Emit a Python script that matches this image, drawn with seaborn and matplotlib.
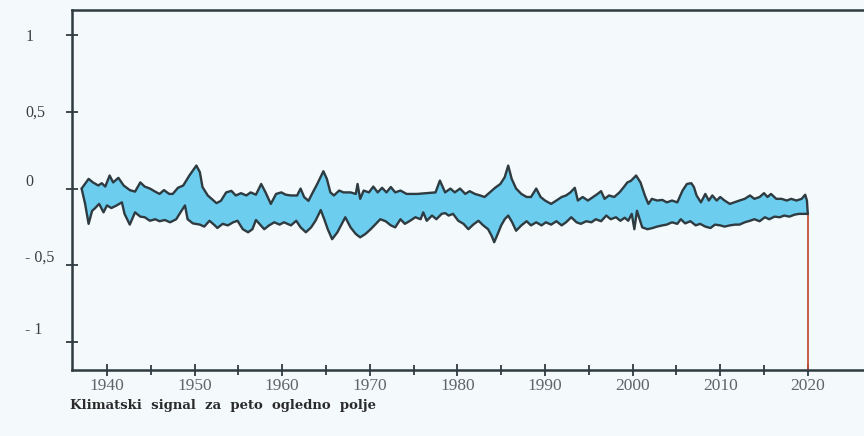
import numpy as np
import pandas as pd
import matplotlib
matplotlib.use('Agg')
import matplotlib.pyplot as plt
import matplotlib.transforms as mtransforms
import seaborn as sns

# ==========================
# DATA
# ==========================
upper_years = [1937.1, 1937.9, 1938.4, 1939.0, 1939.4, 1939.8, 1940.3, 1940.7, 1941.3, 1941.9,
               1942.6, 1943.2, 1943.8, 1944.3, 1944.9, 1945.5, 1946.0, 1946.5, 1947.1, 1947.5,
               1948.1, 1948.7, 1949.4, 1950.2, 1950.6, 1950.9, 1951.5, 1952.5, 1953.0, 1953.6,
               1954.2, 1954.7, 1955.3, 1955.9, 1956.4, 1957.0, 1957.6, 1958.1, 1958.7, 1959.3,
               1959.9, 1960.4, 1961.0, 1961.7, 1962.1, 1962.5, 1963.0, 1963.4, 1964.0, 1964.7,
               1965.1, 1965.5, 1965.9, 1966.5, 1967.0, 1967.8, 1968.4, 1968.6, 1968.9, 1969.3,
               1969.9, 1970.4, 1970.9, 1971.4, 1971.9, 1972.4, 1972.9, 1973.5, 1974.2, 1975.4,
               1976.5, 1977.5, 1978.0, 1978.6, 1979.2, 1979.7, 1980.3, 1980.9, 1981.4, 1982.0,
               1982.6, 1983.1, 1983.7, 1984.3, 1984.9, 1985.4, 1985.8, 1986.2, 1986.7, 1987.3,
               1987.9, 1988.4, 1989.0, 1989.5, 1990.0, 1990.7, 1991.3, 1991.9, 1992.4, 1992.9,
               1993.4, 1993.75, 1994.3, 1994.9, 1995.5, 1996.0, 1996.4, 1996.8, 1997.3, 1997.9,
               1998.5, 1999.0, 1999.4, 1999.8, 2000.4, 2000.9, 2001.4, 2001.8, 2002.2, 2002.8,
               2003.4, 2003.9, 2004.5, 2005.1, 2005.7, 2006.2, 2006.7, 2007.0, 2007.3, 2007.8,
               2008.3, 2008.7, 2009.1, 2009.6, 2010.0, 2010.5, 2011.1, 2011.6, 2012.2, 2012.8,
               2013.4, 2013.9, 2014.5, 2015.0, 2015.4, 2015.8, 2016.4, 2017.0, 2017.6, 2018.1,
               2018.7, 2019.3, 2019.7, 2019.9, 2020.0]
upper_vals = [0.0, 0.063, 0.04, 0.02, 0.035, 0.013, 0.085, 0.04, 0.07, 0.02,
              -0.01, -0.02, 0.04, 0.013, 0.0, -0.02, -0.035, -0.01, -0.035, -0.035,
              0.005, 0.02, 0.085, 0.15, 0.107, 0.01, -0.045, -0.095, -0.08, -0.025,
              -0.015, -0.045, -0.03, -0.045, -0.025, -0.04, 0.03, -0.025, -0.1, -0.035,
              -0.025, -0.04, -0.045, -0.045, 0.0, -0.055, -0.08, -0.035, 0.03, 0.113,
              0.063, -0.025, -0.045, -0.013, -0.025, -0.025, -0.035, 0.03, -0.067, -0.013,
              -0.025, 0.013, -0.025, 0.005, -0.025, 0.01, -0.025, -0.013, -0.035, -0.035,
              -0.03, -0.025, 0.052, -0.025, 0.0, -0.025, 0.0, -0.035, -0.017, -0.035,
              -0.045, -0.055, -0.025, 0.005, 0.03, 0.074, 0.15, 0.063, 0.0, -0.035,
              -0.055, -0.055, 0.0, -0.055, -0.078, -0.1, -0.078, -0.055, -0.045, -0.025,
              0.005, -0.078, -0.055, -0.078, -0.055, -0.035, -0.017, -0.067, -0.045, -0.055,
              -0.025, 0.01, 0.04, 0.05, 0.085, 0.04, -0.045, -0.1, -0.067, -0.078,
              -0.074, -0.09, -0.078, -0.09, -0.013, 0.03, 0.035, 0.01, -0.045, -0.09,
              -0.035, -0.078, -0.045, -0.078, -0.055, -0.078, -0.1, -0.09, -0.078, -0.067,
              -0.045, -0.067, -0.055, -0.03, -0.055, -0.035, -0.067, -0.067, -0.078, -0.067,
              -0.078, -0.067, -0.04, -0.078, -0.165]

lower_years = [1937.1, 1937.5, 1937.9, 1938.3, 1938.6, 1939.1, 1939.6, 1940.0, 1940.5, 1941.1,
               1941.7, 1942.0, 1942.6, 1943.2, 1943.8, 1944.3, 1944.9, 1945.5, 1946.0, 1946.6,
               1947.2, 1947.9, 1948.5, 1948.9, 1949.2, 1949.8, 1950.6, 1951.1, 1951.7, 1952.3,
               1952.6, 1953.2, 1953.8, 1954.4, 1954.9, 1955.5, 1956.1, 1956.6, 1957.0, 1957.4,
               1957.95, 1958.5, 1959.1, 1959.7, 1960.2, 1961.0, 1961.6, 1962.1, 1962.7, 1963.3,
               1963.8, 1964.4, 1964.8, 1965.2, 1965.7, 1966.3, 1966.9, 1967.2, 1967.8, 1968.4,
               1968.9, 1969.5, 1970.1, 1970.6, 1971.2, 1971.8, 1972.4, 1972.9, 1973.5, 1974.0,
               1974.6, 1975.2, 1975.8, 1976.1, 1976.5, 1977.1, 1977.6, 1978.2, 1978.6, 1979.0,
               1979.5, 1980.1, 1980.7, 1981.25, 1981.8, 1982.4, 1982.95, 1983.5, 1983.9, 1984.2,
               1984.6, 1985.0, 1985.4, 1985.8, 1986.25, 1986.7, 1987.3, 1987.9, 1988.4, 1989.0,
               1989.6, 1990.1, 1990.7, 1991.3, 1991.9, 1992.4, 1993.0, 1993.6, 1994.1, 1994.7,
               1995.3, 1995.8, 1996.4, 1997.0, 1997.5, 1998.1, 1998.6, 1999.1, 1999.5, 1999.9,
               2000.2, 2000.5, 2000.8, 2001.1, 2001.7, 2002.3, 2002.8, 2003.4, 2003.9, 2004.5,
               2005.1, 2005.5, 2006.0, 2006.6, 2007.2, 2007.7, 2008.3, 2008.9, 2009.4, 2010.0,
               2010.5, 2011.1, 2011.7, 2012.2, 2012.8, 2013.4, 2013.9, 2014.5, 2015.1, 2015.6,
               2016.2, 2016.8, 2017.3, 2017.9, 2018.5, 2019.0, 2020.0]
lower_vals = [0.0, -0.1, -0.23, -0.145, -0.13, -0.1, -0.155, -0.11, -0.127, -0.11,
              -0.09, -0.165, -0.235, -0.155, -0.183, -0.187, -0.21, -0.2, -0.213, -0.205,
              -0.22, -0.2, -0.145, -0.11, -0.2, -0.227, -0.235, -0.248, -0.21, -0.24,
              -0.257, -0.23, -0.24, -0.22, -0.21, -0.265, -0.285, -0.265, -0.205, -0.23,
              -0.265, -0.24, -0.22, -0.235, -0.22, -0.24, -0.21, -0.253, -0.285, -0.253,
              -0.21, -0.14, -0.2, -0.265, -0.33, -0.285, -0.22, -0.187, -0.253, -0.296,
              -0.318, -0.296, -0.265, -0.235, -0.2, -0.213, -0.24, -0.253, -0.2, -0.23,
              -0.21, -0.187, -0.2, -0.155, -0.21, -0.176, -0.2, -0.165, -0.16, -0.176,
              -0.165, -0.21, -0.23, -0.265, -0.235, -0.21, -0.24, -0.265, -0.307, -0.35,
              -0.296, -0.24, -0.2, -0.176, -0.22, -0.275, -0.24, -0.213, -0.24, -0.22,
              -0.24, -0.22, -0.235, -0.213, -0.24, -0.22, -0.187, -0.22, -0.23, -0.213,
              -0.22, -0.2, -0.213, -0.176, -0.2, -0.187, -0.21, -0.19, -0.21, -0.165,
              -0.265, -0.145, -0.2, -0.253, -0.265, -0.257, -0.248, -0.24, -0.235, -0.22,
              -0.23, -0.2, -0.227, -0.213, -0.24, -0.23, -0.248, -0.257, -0.235, -0.24,
              -0.248, -0.24, -0.235, -0.235, -0.22, -0.21, -0.2, -0.213, -0.187, -0.2,
              -0.183, -0.187, -0.176, -0.183, -0.17, -0.165, -0.165]

year_ticks = [1940, 1950, 1960, 1970, 1980, 1990, 2000, 2010, 2020]
y_ticks = [1, 0.5, 0, -0.5, -1]
y_tick_labels = ['1', '0,5', '0', '- 0,5', '- 1']
caption = 'Klimatski  signal  za  peto  ogledno  polje'

# ==========================
# STYLE
# ==========================
sns.set_style('white')
plt.rcParams['font.family'] = ['Liberation Serif', 'DejaVu Serif']

bg = '#F4F9FC'
ink = '#2E3B41'
fill_col = '#6CCDEE'

fig = plt.figure(figsize=(8.64, 4.36), dpi=100, facecolor=bg)
ax = fig.add_axes([0.0833, 0.151, 0.95, 0.826])
ax.set_facecolor(bg)

# band between the two curves
ax.fill(np.concatenate([upper_years, lower_years[::-1]]),
        np.concatenate([upper_vals, lower_vals[::-1]]),
        color=fill_col, lw=0, zorder=1)

up_df = pd.DataFrame({'year': upper_years, 'val': upper_vals})
lo_df = pd.DataFrame({'year': lower_years, 'val': lower_vals})
sns.lineplot(data=up_df, x='year', y='val', ax=ax, color=ink, lw=1.7,
             estimator=None, sort=False, zorder=3)
sns.lineplot(data=lo_df, x='year', y='val', ax=ax, color=ink, lw=1.7,
             estimator=None, sort=False, zorder=3)

ax.set_xlim(1936.0, 2029.7)
ax.set_ylim(-1.184, 1.164)

# red end marker down to the axis
ax.vlines(upper_years[-1], ax.get_ylim()[0], lower_vals[-1], color='#C0503A', lw=1.3, zorder=2)

# axes frame
for side in ['left', 'bottom', 'top']:
    ax.spines[side].set_color(ink)
    ax.spines[side].set_linewidth(1.8)
ax.spines['right'].set_visible(False)

ax.set_xticks(year_ticks)
ax.set_xticklabels([str(y) for y in year_ticks])
ax.set_xticks(np.arange(1945, 2020, 10), minor=True)
ax.tick_params(axis='x', which='both', bottom=True, direction='inout', length=9, width=1.3,
               color=ink, labelsize=12.5, labelcolor='#5E6468', pad=1)
ax.tick_params(axis='x', which='minor', length=7)

ax.set_yticks(y_ticks)
ax.set_yticklabels(y_tick_labels)
ax.tick_params(axis='y', left=True, direction='inout', length=9, width=1.3, color=ink,
               labelsize=11.5, labelcolor='#3A3F42', pad=29)
# hand-lettered labels sit a little above their ticks in the scan
label_lift = [0, 1, 6, 7, 10]
for lab, lift in zip(ax.get_yticklabels(), label_lift):
    lab.set_horizontalalignment('left')
    lab.set_transform(lab.get_transform() +
                      mtransforms.ScaledTranslation(0, lift / 72, fig.dpi_scale_trans))

ax.set_xlabel('')
ax.set_ylabel('')

fig.text(0.081, 0.071, caption, fontsize=9.5, fontweight='bold', color='#2A2A2A',
         family='DejaVu Serif', ha='left', va='center')

plt.savefig('out.png', dpi=100, facecolor=bg)
